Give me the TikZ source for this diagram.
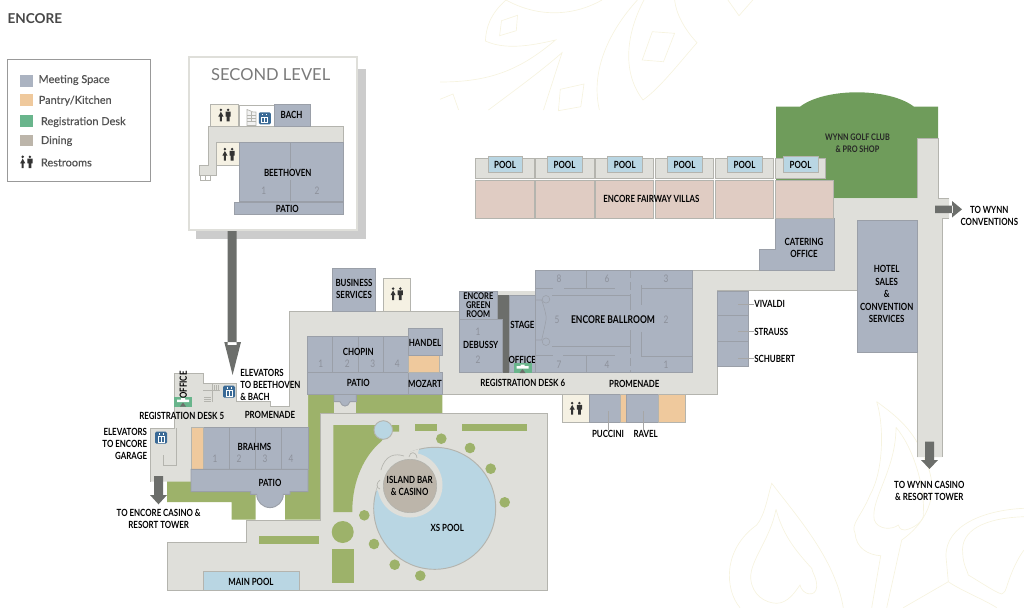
\documentclass[tikz,border=0pt]{standalone}
\usepackage{fontspec}
\setmainfont{Lato}
\newfontfamily\lblfont[FakeStretch=0.8,BoldFont={Lato Bold},BoldFeatures={FakeStretch=0.8}]{Lato}
\newfontfamily\keyfont[FakeBold=0.25]{Lato}
\definecolor{hallcol}{HTML}{DFDFDA}
\definecolor{hallline}{HTML}{B4B4AE}
\definecolor{roomcol}{HTML}{ABB3C1}
\definecolor{roomline}{HTML}{9A9FA8}
\definecolor{pantrycol}{HTML}{EFC99D}
\definecolor{regcol}{HTML}{69B58C}
\definecolor{diningcol}{HTML}{BCB5AA}
\definecolor{lawncol}{HTML}{9DB26A}
\definecolor{golfcol}{HTML}{6F9C5B}
\definecolor{poolcol}{HTML}{B9D6E3}
\definecolor{villacol}{HTML}{E0CCC3}
\definecolor{creamcol}{HTML}{F5F1E3}
\definecolor{liftcol}{HTML}{3A6A96}
\definecolor{arrowcol}{HTML}{6C6E6B}
\definecolor{decorcol}{HTML}{F6F3DF}
\definecolor{numcol}{HTML}{8D919B}
\definecolor{inkcol}{HTML}{333333}
\tikzset{
  hall/.style={fill=hallcol,draw=hallline,line width=0.7pt},
  room/.style={fill=roomcol,draw=roomline,line width=0.7pt},
  pantry/.style={fill=pantrycol,draw=hallline,line width=0.7pt},
  wc/.style={fill=creamcol,draw=hallline,line width=0.7pt},
  pool/.style={fill=poolcol,draw=hallline,line width=0.7pt},
  villa/.style={fill=villacol,draw=hallline,line width=0.7pt},
  lawn/.style={fill=lawncol},
  wall/.style={draw=roomline,line width=0.6pt},
  lbl/.style={inner sep=0pt,text=black,align=center,font=\lblfont\bfseries\fontsize{7.4}{9}\selectfont},
  num/.style={inner sep=0pt,text=numcol,font=\lblfont\fontsize{7.8}{9}\selectfont},
  key/.style={inner sep=0pt,anchor=west,text=inkcol!85,font=\keyfont\fontsize{8.2}{9}\selectfont},
  decor/.style={draw=decorcol,line width=0.5pt},
  restroom/.pic={
    \fill[inkcol] (-3.6,-5.4) circle (1.4) (3.6,-5.4) circle (1.4);
    \fill[inkcol] (-3.6,-3.6) -- (-1,1.2) -- (-2.6,1.2) -- (-2.6,6) -- (-4.6,6) -- (-4.6,1.2) -- (-6.2,1.2) -- cycle;
    \fill[inkcol] (1,-3.6) rectangle (6.2,1.2) (2.2,1.2) rectangle (5,6);
  },
  lift/.pic={
    \fill[liftcol,rounded corners=1pt] (-6,-6) rectangle (6,6);
    \draw[white,line width=0.5pt] (-3,-1) rectangle (3,4.5) (0,-1) -- (0,4.5) (-2,-3) -- (-2,-4.5) (2,-3) -- (2,-4.5);
  },
  desk/.pic={
    \fill[regcol] (-9,-5) rectangle (9,5);
    \fill[white] (-6,-2) -- (-2,-2) -- (-2,-3.5) -- (2,-3.5) -- (2,-2) -- (6,-2) -- (6,0.5) -- (-6,0.5) -- cycle;
    \fill[arrowcol] (0,1) -- (3,5) -- (-3,5) -- cycle;
  }
}
\begin{document}
\begin{tikzpicture}[x=0.75pt,y=-0.75pt]
  \path[use as bounding box] (0,0) rectangle (1024,608);

  % background ornament
  \begin{scope}
    \clip (0,0) rectangle (1024,608);
    \draw[decor] (506,0) .. controls (490,14) and (486,28) .. (485.4,41) .. controls (505,50) and (530,46) .. (555.5,40) .. controls (520,70) and (490,82) .. (440,82);
    \draw[decor] (506,0) .. controls (535,16) and (570,18) .. (602,0);
    \draw[decor] (501.5,20.7) -- (517.5,15.3) -- (516.3,30.7) -- (499.6,35.7) -- cycle;
    \draw[decor] (488.4,110) .. controls (515,90) and (540,72) .. (562,52.7) -- (543.5,110);
    \draw[decor] (560.3,89.3) -- (584,84) -- (580.8,106.7) -- (558.4,110.7) -- cycle;
    \draw[decor] (440,99.3) -- (453,94) -- (458.6,110);
    \draw[decor] (637.4,0) .. controls (610,30) and (590,70) .. (599.4,110);
    \draw[decor] (644,0) .. controls (628,30) and (620,70) .. (643,100) .. controls (660,88) and (680,62) .. (697,42.7) .. controls (685,30) and (676,14) .. (674.6,0);
    \draw[decor] (652.3,31.7) -- (674.6,33.3) -- (663.5,61.7) -- (642.2,60) -- cycle;
    \draw[decor] (727.9,0) -- (739,15.7) -- (752.8,0);
    \draw[decor] (740,607.7) .. controls (725,590) and (722,550) .. (756.7,525) .. controls (765,515) and (768,495) .. (771.7,483.3) .. controls (800,520) and (835,560) .. (843.3,607.7);
    \draw[decor] (776,509.3) .. controls (770,540) and (750,560) .. (750.7,578.3) .. controls (752,595) and (765,603) .. (776.7,603.3) .. controls (788,603) and (795,592) .. (800,585) .. controls (802,595) and (816,598) .. (816.7,586.7) .. controls (817,578) and (812,572) .. (811.7,568.3) .. controls (795,550) and (783,535) .. (776,509.3);
    \draw[decor] (876.7,401.7) .. controls (884,425) and (884,470) .. (870,495) .. controls (862,515) and (850,525) .. (855,533) .. controls (856,548) and (868,555) .. (880.7,555.7) -- (871.7,607.7);
    \draw[decor] (876.7,401.7) .. controls (895,415) and (915,430) .. (925,460) .. controls (940,490) and (930,520) .. (901.7,540) -- (886.7,607.7);
    \draw[decor] (896,427.3) .. controls (896,470) and (870,500) .. (874.3,520) .. controls (878,530) and (892,530) .. (898.3,525) .. controls (900,530) and (903,530) .. (905,530) .. controls (915,528) and (925,520) .. (923.3,513.3) .. controls (925,490) and (915,450) .. (896,427.3);
    \draw[decor] (1024,508.3) .. controls (985,510) and (945,525) .. (946,556.7) -- (948.3,581.7) -- (903.3,607.7);
    \draw[decor] (1024,516.7) .. controls (985,518) and (960,530) .. (962.7,553.3) .. controls (963,565) and (968,572) .. (968.3,575) .. controls (985,585) and (995,592) .. (1001.7,594) .. controls (1005,592) and (1006,590) .. (1006.7,586.7) .. controls (1012,570) and (1018,558) .. (1024,550);
    \draw[decor] (948.3,581.7) .. controls (960,590) and (985,600) .. (996.7,607.7);
  \end{scope}

  % title and legend
  \node[inner sep=0pt,anchor=west,text=inkcol!90,font=\bfseries\fontsize{10.2}{11}\selectfont] (title) at (7.3,19) {ENCORE};
  \draw[draw=black!40,line width=0.7pt,fill=white] (7.3,59) rectangle (150.3,181.3);
  \fill[roomcol] (20,75) rectangle (32.7,86.7);
  \fill[pantrycol] (20,94.3) rectangle (32.7,106);
  \fill[regcol] (20,115.3) rectangle (32.7,127);
  \fill[diningcol] (20,134.7) rectangle (32.7,146.3);
  \pic at (26.3,162.2) {restroom};
  \node[key] (keymeet) at (38.3,80) {Meeting Space};
  \node[key] (keypantry) at (38.5,100.7) {Pantry/Kitchen};
  \node[key] (keyreg) at (40.7,122) {Registration Desk};
  \node[key] (keydining) at (40.7,141) {Dining};
  \node[key] (keywc) at (40.7,162.5) {Restrooms};

  % second level
  \fill[black!20] (196,69.3) rectangle (365.7,239.3);
  \draw[draw=hallcol,line width=1.4pt,fill=white] (189,56.7) rectangle (357.3,230);
  \fill[arrowcol] (227.7,231) rectangle (236.7,345) (224.3,342) -- (241,342) -- (232.6,375) -- cycle;
  \node[inner sep=0pt,text=black!52,font=\fontsize{12.4}{14}\selectfont] (second) at (270.7,75) {SECOND LEVEL};
  \draw[hall] (208.3,126.3) -- (343.7,126.3) -- (343.7,142.7) -- (216.7,142.7) -- (216.7,175) -- (199.7,175) -- (199.7,165.7) -- (208.3,165.7) -- cycle;
  \draw[draw=hallline,line width=0.5pt,fill=white] (200.3,175) rectangle (210.7,180.3) (205.5,175) -- (205.5,180.3);
  \draw[wc] (210.7,104.3) rectangle (238.7,126.3);
  \pic at (224.5,115.3) {restroom};
  \draw[wc] (216.7,142.7) rectangle (239,165.7);
  \pic at (228.5,154.5) {restroom};
  \draw[draw=hallline,line width=0.5pt,fill=white] (239,105) rectangle (274,126);
  \draw[draw=hallline,line width=0.5pt,fill=black!5] (247,109.5) -- (253,112) -- (256,112) -- (256,125.5) -- (247,125.5) -- cycle;
  \draw[draw=hallline,line width=0.3pt] (247,115) -- (256,115) (247,118) -- (256,118) (247,121) -- (256,121) (251.5,112) -- (251.5,121);
  \pic at (264.8,118.3) {lift};
  \draw[room] (274,104.3) rectangle (310,126.3);
  \draw[room] (239,142.7) rectangle (343.7,201.7);
  \draw[wall] (290.3,142.7) -- (290.3,168) (290.3,180) -- (290.3,201.7);
  \draw[room] (234.3,202.3) rectangle (343.7,214.3);
  \node[lbl] (bach) at (291.5,115) {BACH};
  \node[lbl] (beethoven) at (287.7,173) {BEETHOVEN};
  \node[lbl] (patiotwo) at (287.3,208.7) {PATIO};
  \node[num] (btone) at (263.7,190.3) {1};
  \node[num] (bttwo) at (317,190.3) {2};

  % lawns under the rooms
  \fill[lawn] (308,395) -- (442.3,395) -- (442.3,414) -- (320,414) -- (320,519.5) -- (285,519.5) -- (285,495) -- (255.7,495) -- (255.7,519.5) -- (231.7,519.5) -- (231.7,502) -- (167,502) -- (167,481) -- (191,481) -- (308,481) -- cycle;
  \fill[golfcol] (776,106.7) -- (800,106.7) .. controls (825,87.5) and (889,87.5) .. (914,106.7) -- (938,106.7) -- (938,138) -- (917,138) -- (917,198.3) -- (834,198.3) -- (834,180) -- (776,180) -- cycle;

  % corridors
  \fill[hallcol] (289,311) -- (459.3,311) -- (459.3,291) -- (535,291) -- (535,270) -- (834,270) -- (834,198.3) -- (917,198.3) -- (917,138) -- (938,138) -- (938,198.3) -- (949,198.3) -- (949,218) -- (942,218) -- (942,457) -- (917,457) -- (917,352) -- (857,352) -- (857,290.7) -- (717,290.7) -- (717,394) -- (442,394) -- (308,394) -- (308,427.3) -- (191,427.3) -- (191,481.7) -- (150,481.7) -- (150,428) -- (174.5,428) -- (174.5,373) -- (203,373) -- (203,383) -- (236,383) -- (236,401.7) -- (270,401.7) -- (270,406.7) -- (289,406.7) -- cycle;
  \draw[draw=hallline,line width=0.7pt] (289,311) -- (459.3,311) (535,270) -- (834,270) (917,198.3) -- (917,138) -- (938,138) -- (938,198.3) -- (949,198.3) (949,218) -- (942,218) -- (942,457);
  \draw[draw=hallline,line width=0.7pt] (917,457) -- (917,352) -- (857,352) -- (857,290.7) -- (717,290.7) -- (717,394) -- (442,394) (308,427.3) -- (191,427.3) -- (191,481.7) (150,481.7) -- (150,428) -- (174.5,428) -- (174.5,373) -- (203,373) -- (203,383) -- (236,383) -- (236,401.7) -- (270,401.7) -- (270,406.7) -- (289,406.7) -- (289,311);
  \draw[draw=hallline,line width=0.5pt] (176.7,428) -- (176.7,465) -- (163.3,465) -- (163.3,455);
  \draw[draw=hallline,line width=0.4pt] (203,383) -- (220,383) (203,390) -- (220,390) (212,383) -- (212,401.7) (204,397) -- (211,397) (204,399) -- (211,399) (204,401) -- (211,401) (214,385) -- (214,390) (216,385) -- (216,390) (218,385) -- (218,390);

  % pool deck
  \draw[hall] (320,413.7) -- (547,413.7) -- (547,590.7) -- (167.3,590.7) -- (167.3,542.3) -- (246,542.3) -- (246,520) -- (320,520) -- cycle;
  \draw[pool] (203.3,571) rectangle (299,590.7);
  \fill[lawn] (259,535.7) rectangle (319.3,543.7);
  \fill[lawn] (332,549.3) rectangle (353.7,583.3);
  \fill[lawn] (342.7,532) circle (11);
  \fill[lawn] (333.3,425) -- (399,425) -- (399,431.5) -- (389,431.5) -- (381,441.7) .. controls (365,455) and (352,480) .. (352.3,512) -- (333.3,512) -- cycle;
  \draw[pool] (383.3,430) circle (9.3);
  \fill[lawn] (415,424) rectangle (436.7,431.3);
  \fill[lawn] (462,424) rectangle (527.3,431);
  \foreach \dotx/\doty in {441.3/438.7,470/448,490.7/468.7,504.7/502.3,364.3/515.3,374/544,394.7/564.7,420.3/575.7}
    \fill[lawn] (\dotx,\doty) circle (5.3);
  \draw[pool] (434.7,508.3) circle (61);
  \fill[hallcol] (410,485) circle (32.5);
  \fill[hallcol] (419,449) -- (396,456) -- (376,490.7) -- (410,485) -- cycle;
  \draw[draw=hallline,line width=0.5pt] (381,470) .. controls (385,455) and (395,453) .. (404,456) (409,457) .. controls (410,451) and (416,451) .. (417,458) (380,480) .. controls (376,483) and (376,488) .. (380,489);
  \draw[fill=diningcol,draw=hallline,line width=0.5pt] (410,486) circle (26.7);
  \node[lbl,font=\lblfont\bfseries\fontsize{7.4}{8.4}\selectfont] (island) at (409.7,486) {ISLAND BAR\\\& CASINO};
  \node[lbl] (xspool) at (447.3,527.7) {XS POOL};
  \node[lbl] (mainpool) at (251,581.5) {MAIN POOL};

  % Brahms wing
  \draw[room] (203.3,427.3) rectangle (308,469.3);
  \draw[pantry] (191,427.3) rectangle (203.3,469.3);
  \draw[wall] (229.7,427.3) -- (229.7,469.3) (255.7,427.3) -- (255.7,469.3) (281.7,427.3) -- (281.7,469.3);
  \fill[white] (255.7,495) rectangle (285,519);
  \draw[room] (191,469.3) -- (308,469.3) -- (308,491.7) -- (290,491.7) -- (290,494.3) -- (283.3,494.3) arc (0:180:13.3) -- (250.7,494.3) -- (250.7,491.7) -- (191,491.7) -- cycle;
  \node[lbl] (brahms) at (254.5,447) {BRAHMS};
  \node[lbl] (patiobr) at (270,483) {PATIO};
  \node[num] (brone) at (215,458.3) {1};
  \node[num] (brtwo) at (239,458.3) {2};
  \node[num] (brthree) at (265,458.3) {3};
  \node[num] (brfour) at (291,458.3) {4};

  % Chopin wing
  \fill[hallcol] (334,395) rectangle (356.3,413);
  \draw[room] (334,394.3) -- (334,401.7) -- (340,401.7) .. controls (342,407.5) and (348,407.5) .. (350,401.7) -- (356.3,401.7) -- (356.3,394.3);
  \draw[room] (307.3,336) rectangle (408,372.3);
  \draw[wall] (332.3,336) -- (332.3,372.3) (358,336) -- (358,372.3) (383.7,336) -- (383.7,372.3);
  \draw[room] (307.3,372.3) rectangle (408,394.3);
  \draw[room] (408,372.3) rectangle (442.3,394.3);
  \draw[pantry] (408,355.7) rectangle (439,372.3);
  \draw[room] (408,328.7) rectangle (442.3,355.7);
  \draw[room] (332.3,268.3) rectangle (375.7,311);
  \draw[wc] (383,278.3) rectangle (410,311);
  \pic at (396.7,294) {restroom};
  \node[lbl] (business) at (354,289.3) {BUSINESS\\SERVICES};
  \node[lbl] (chopin) at (358.3,352.3) {CHOPIN};
  \node[lbl] (patioch) at (358.3,383.3) {PATIO};
  \node[lbl] (handel) at (425,342.7) {HANDEL};
  \node[lbl] (mozart) at (425,383.7) {MOZART};
  \node[num] (chone) at (320.7,364) {1};
  \node[num] (chtwo) at (347.3,364) {2};
  \node[num] (chthree) at (372.7,364) {3};
  \node[num] (chfour) at (397.3,364) {4};

  % Debussy and stage
  \fill[arrowcol] (498,295) rectangle (509.7,372.7);
  \draw[room] (459.3,291) rectangle (497.7,319);
  \draw[room] (459.3,319) rectangle (502,372.7);
  \draw[room] (509.7,295) rectangle (535.7,372.7);
  \node[lbl,font=\lblfont\bfseries\fontsize{7}{6.8}\selectfont] (green) at (478.3,305.5) {ENCORE\\GREEN\\ROOM};
  \node[lbl] (debussy) at (480.7,344.7) {DEBUSSY};
  \node[num] (deone) at (478,331.3) {1};
  \node[num] (detwo) at (478,359.3) {2};
  \node[lbl] (stage) at (522.3,324.7) {STAGE};
  \pic at (522.5,368) {desk};
  \node[lbl] (officesix) at (522.3,360) {OFFICE};
  \node[lbl] (regsix) at (522.7,383.3) {REGISTRATION DESK 6};

  % ballroom
  \draw[room] (535.3,270) rectangle (692.7,372.7);
  \draw[wall] (586,270) -- (586,288) (586,355.7) -- (586,372.7) (641.7,285) -- (641.7,305) (641.7,331.7) -- (641.7,356.7) -- (692.7,356.7) (641.7,288.3) -- (692.7,288.3);
  \draw[wall] (552,295) -- (630,295) -- (630,310) (630,330) -- (630,346) -- (552,346);
  \draw[wall,dashed,dash pattern=on 6pt off 3pt] (630,270) -- (630,295) (630,346) -- (630,372.7);
  \draw[wall] (535.3,288) -- (553,288) (564,288) -- (615,288) (535.3,355.7) -- (553,355.7) (563,355.7) -- (615,355.7);
  \draw[wall,line width=0.4pt] (535.3,300) -- (541.7,300) .. controls (545,310) and (547,318) .. (546,320) .. controls (545,326) and (543,334) .. (541.7,340) -- (535.3,340);
  \draw[wall,line width=0.4pt] (546,299.3) circle (3.8) (546,341.7) circle (3.8);
  \node[lbl,font=\lblfont\bfseries\fontsize{8}{9}\selectfont] (ballroom) at (613,320) {ENCORE BALLROOM};
  \node[num] (bafive) at (557,320) {5};
  \node[num] (batwo) at (666,320) {2};
  \node[num] (baeight) at (559,279) {8};
  \node[num] (basix) at (607,279) {6};
  \node[num] (bathree) at (666,279) {3};
  \node[num] (baseven) at (559,365) {7};
  \node[num] (bafour) at (607,365) {4};
  \node[num] (baone) at (666,365) {1};
  \node[lbl] (promright) at (634.3,384.3) {PROMENADE};

  % east rooms
  \draw[room] (717,291) rectangle (748,366.7);
  \draw[wall] (717,315.7) -- (748,315.7) (717,341) -- (748,341);
  \node[lbl,anchor=west] (vivaldi) at (754,304) {VIVALDI};
  \node[lbl,anchor=west] (strauss) at (754,331.7) {STRAUSS};
  \node[lbl,anchor=west] (schubert) at (754,358.7) {SCHUBERT};
  \draw[draw=black!35,line width=0.4pt] (vivaldi.west) -- ++(-16,0) (strauss.west) -- ++(-16,0) (schubert.west) -- ++(-16,0);
  \draw[wc] (562.3,394.7) rectangle (589.3,422.7);
  \pic at (575.8,408.5) {restroom};
  \draw[room] (589.3,394.7) rectangle (620.7,422.7);
  \draw[pantry] (620.7,394.7) rectangle (626.3,422.7);
  \draw[room] (626.3,394.7) rectangle (658,422.7);
  \draw[pantry] (658,394.7) rectangle (685.3,422.7);
  \node[lbl] (puccini) at (608,433.7) {PUCCINI};
  \node[lbl] (ravel) at (645.7,433.7) {RAVEL};
  \draw[draw=black!35,line width=0.4pt] (puccini.north) -- ++(0,-19) (ravel.north) ++(-2.5,0) -- ++(0,-19);
  \draw[room] (775,218) -- (834,218) -- (834,270) -- (759,270) -- (759,249) -- (775,249) -- cycle;
  \node[lbl] (catering) at (804,248.3) {CATERING\\OFFICE};
  \draw[room] (857,220) rectangle (917,352);
  \node[lbl,font=\lblfont\bfseries\fontsize{7.4}{9.4}\selectfont] (hotel) at (886.7,294.3) {HOTEL\\SALES\\\&\\CONVENTION\\SERVICES};

  % villas
  \foreach \vx/\vw in {475/534,535/594,595/653.5,655/713.6,715/773.7} {
    \draw[hall] (\vx,158) rectangle (\vw,178);
    \draw[villa] (\vx,180) rectangle (\vw,218.3);
  }
  \draw[hall] (775.5,158) rectangle (825,178);
  \draw[villa] (775.5,180) rectangle (833.4,218.3);
  \foreach \px/\pw in {488/522,547/582,607.5/642,667/702,727/762,783/818} {
    \draw[pool] (\px,156.3) rectangle (\pw,172.7);
    \node[lbl] at ({(\px+\pw)/2},164.7) {POOL};
  }
  \node[lbl] (villas) at (651.4,199.3) {ENCORE FAIRWAY VILLAS};
  \node[lbl,text=black!85,font=\lblfont\bfseries\fontsize{6.8}{9}\selectfont] (golf) at (857.5,143.3) {WYNN GOLF CLUB\\\& PRO SHOP};

  % exits
  \fill[arrowcol] (935,205.7) rectangle (953,213) (952,201) -- (962,209.3) -- (952,217.5) -- cycle;
  \node[lbl] (conv) at (989.3,215.7) {TO WYNN\\CONVENTIONS};
  \fill[arrowcol] (925,441.7) rectangle (934,460) (921,460) -- (938,460) -- (929.5,469) -- cycle;
  \node[lbl] (towerr) at (929.3,491) {TO WYNN CASINO\\\& RESORT TOWER};
  \fill[arrowcol] (154,476) rectangle (163,495) (150,495) -- (167,495) -- (158.5,504.3) -- cycle;
  \node[lbl] (towerl) at (158.7,519.3) {TO ENCORE CASINO \&\\RESORT TOWER};

  % west lobby
  \pic at (183,401.5) {desk};
  \node[lbl,rotate=90] (officefive) at (183.3,385) {OFFICE};
  \pic at (229,391.7) {lift};
  \pic at (161,437.7) {lift};
  \node[lbl,align=left,anchor=west] (liftsbt) at (240,385) {ELEVATORS\\TO BEETHOVEN\\\& BACH};
  \node[lbl,align=right,anchor=east] (liftsgar) at (147.3,443.7) {ELEVATORS\\TO ENCORE\\GARAGE};
  \node[lbl] (regfive) at (181.7,416.3) {REGISTRATION DESK 5};
  \node[lbl] (promleft) at (270,415.3) {PROMENADE};

\end{tikzpicture}
\end{document}
